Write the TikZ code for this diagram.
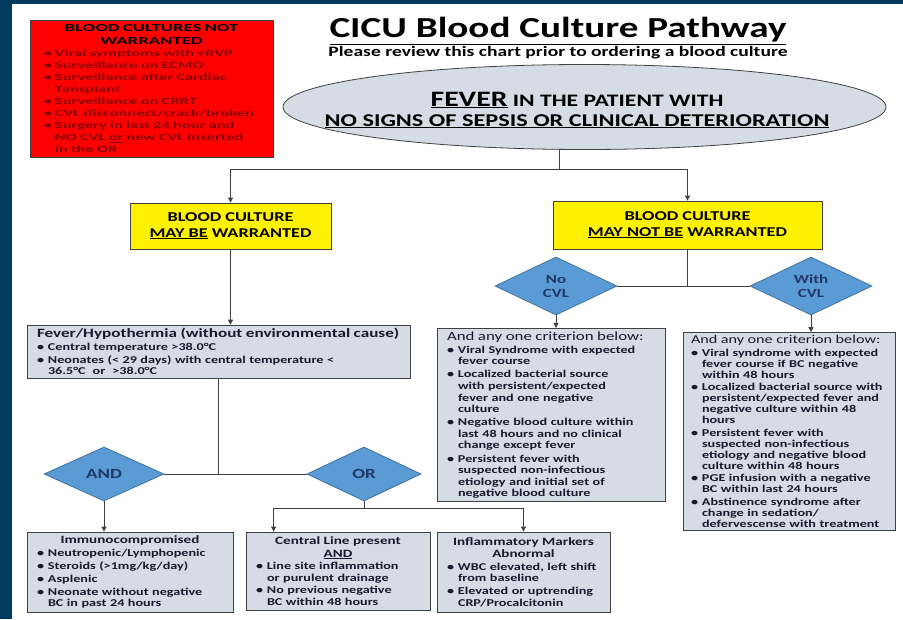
\documentclass[tikz,border=0pt]{standalone}
\usepackage{fontspec}
\setmainfont{Carlito}[FakeStretch=1.35]
\newfontfamily\widefont{Carlito}[FakeStretch=1.75]
\usetikzlibrary{shapes.geometric,arrows.meta,calc}
\definecolor{navy}{RGB}{0,58,94}
\definecolor{warnred}{RGB}{255,0,0}
\definecolor{warntext}{RGB}{135,0,0}
\definecolor{boxfill}{RGB}{214,220,229}
\definecolor{boxline}{RGB}{64,64,64}
\definecolor{decfill}{RGB}{91,155,213}
\definecolor{decline}{RGB}{65,113,156}
\definecolor{dectext}{RGB}{31,56,100}
\definecolor{textdark}{RGB}{25,25,45}
\hyphenpenalty=10000
\exhyphenpenalty=10000
% bullet line with hanging indent
\newlength{\itemgap}
\setlength{\itemgap}{1.5pt}
\newcommand{\bitem}[1]{\par\addvspace{\itemgap}\hangindent=11pt\hangafter=1\noindent\hbox to 11pt{\textbullet\hfil}{\let\\\newline#1}\par}

\begin{document}
\begin{tikzpicture}[x=1pt,y=-1pt,
    greybox/.style={draw=boxline,fill=boxfill,text=textdark,line width=0.8pt,inner xsep=10pt,inner ysep=3pt,align=left,font=\bfseries\fontsize{10.5}{11.3}\selectfont},
    yellowbox/.style={draw=boxline,fill=yellow,line width=0.8pt,align=center,font=\bfseries\fontsize{13.5}{15.5}\selectfont},
    decision/.style={diamond,draw=decline,fill=decfill,text=dectext,line width=0.8pt,inner sep=0pt,align=center,font=\bfseries\fontsize{12.5}{14}\selectfont},
    link/.style={draw=boxline,line width=0.8pt},
    linkarrow/.style={link,-{Triangle[length=5pt,width=5pt]}}]

    % frame
    \fill[navy] (0,0) rectangle (12,619);
    \fill[navy] (0,0) rectangle (903,4);
    \useasboundingbox (0,0) rectangle (903,619);

    % title
    \node[font=\bfseries\fontsize{29}{30}\selectfont] (title) at (558,31) {\underline{CICU Blood Culture Pathway}};
    \node[font=\bfseries\fontsize{14.5}{16}\selectfont] (subtitle) at (558,53) {Please review this chart prior to ordering a blood culture};

    % not warranted list
    \node[draw=boxline,fill=warnred,text=warntext,line width=0.8pt,minimum width=243pt,minimum height=137pt,text width=215pt,inner xsep=14pt,inner ysep=3pt,align=left,
        font=\widefont\bfseries\fontsize{9.4}{12}\selectfont] (notwarranted) at (151.5,88.5)
        {\setlength{\itemgap}{0pt}{\centering\color{black}\fontsize{10.7}{12.6}\selectfont BLOOD CULTURES NOT\\WARRANTED\par}
        \bitem{Viral symptoms with +RVP}
        \bitem{Surveillance on ECMO}
        \bitem{Surveillance after Cardiac\\Tansplant}
        \bitem{Surveillance on CRRT}
        \bitem{CVL disconnect/crack/broken}
        \bitem{Surgery in last 24 hour and\\NO CVL \underline{or} new CVL inserted\\in the OR}};

    % start
    \node[ellipse,draw=boxline,fill=boxfill,line width=0.8pt,minimum width=603pt,minimum height=85pt,inner sep=0pt] (fever) at (584.5,107) {};
    \node[align=center,font=\bfseries\fontsize{18}{20}\selectfont] (fevertext) at (577,110)
        {\underline{\fontsize{22}{20}\selectfont FEVER}\fontsize{17.5}{20}\selectfont{} IN THE PATIENT WITH\\\underline{NO SIGNS OF SEPSIS OR CLINICAL DETERIORATION}};

    % second level
    \node[yellowbox,minimum width=201pt,minimum height=46pt] (maybe) at (230.5,226) {BLOOD CULTURE\\\underline{MAY BE} WARRANTED};
    \node[yellowbox,minimum width=269pt,minimum height=48pt] (maynot) at (687.5,225) {BLOOD CULTURE\\\underline{MAY NOT BE} WARRANTED};

    % may be branch
    \node[greybox,minimum width=383pt,minimum height=53pt,text width=363pt] (febrile) at (218.5,351.5)
        {{\fontsize{12.7}{13.5}\selectfont Fever/Hypothermia (without environmental cause)\par}
        \bitem{Central temperature >38.0°C}
        \bitem{Neonates (< 29 days) with central temperature <\\36.5°C\ \ or\ \ >38.0°C}};
    \node[decision,minimum width=120pt,minimum height=54pt,font=\bfseries\fontsize{14}{15}\selectfont] (andd) at (104,474) {AND};
    \node[decision,minimum width=114pt,minimum height=54pt,font=\bfseries\fontsize{14}{15}\selectfont] (ord) at (364,474) {OR};

    \node[greybox,minimum width=206pt,minimum height=80pt,text width=186pt] (immuno) at (130,572)
        {{\centering\fontsize{11.2}{12.5}\selectfont Immunocompromised\par}
        \bitem{Neutropenic/Lymphopenic}
        \bitem{Steroids (>1mg/kg/day)}
        \bitem{Asplenic}
        \bitem{Neonate without negative\\BC in past 24 hours}};
    \node[greybox,minimum width=184pt,minimum height=78pt,text width=164pt] (cline) at (338,571)
        {{\centering\fontsize{11.2}{12.5}\selectfont Central Line present\\\underline{AND}\par}
        \bitem{Line site inflammation\\or purulent drainage}
        \bitem{No previous negative\\BC within 48 hours}};
    \node[greybox,minimum width=173pt,minimum height=80pt,text width=153pt] (markers) at (523.5,572)
        {{\centering\fontsize{11.2}{12.5}\selectfont Inflammatory Markers\\Abnormal\par}
        \bitem{WBC elevated, left shift\\from baseline}
        \bitem{Elevated or uptrending\\CRP/Procalcitonin}};

    % may not be branch
    \node[decision,minimum width=122pt,minimum height=58pt] (nocvl) at (556,286) {No\\CVL};
    \node[decision,minimum width=122pt,minimum height=58pt] (withcvl) at (811,286) {With\\CVL};

    \node[greybox,minimum width=228pt,minimum height=166pt,text width=208pt,font=\bfseries\fontsize{10.5}{11.6}\selectfont] (nocrit) at (551,415)
        {{\mdseries\fontsize{12.5}{13.5}\selectfont And any one criterion below:\par}
        \bitem{Viral Syndrome with expected\\fever course}
        \bitem{Localized bacterial source\\with persistent/expected\\fever and one negative\\culture}
        \bitem{Negative blood culture within\\last 48 hours and no clinical\\change except fever}
        \bitem{Persistent fever with\\suspected non-infectious\\etiology and initial set of\\negative blood culture}};
    \node[greybox,minimum width=212pt,minimum height=197pt,text width=196pt,inner xsep=8pt,font=\bfseries\fontsize{10.5}{11}\selectfont] (withcrit) at (789,431.5)
        {{\mdseries\fontsize{12}{13.5}\selectfont And any one criterion below:\par}
        \bitem{Viral syndrome with expected\\fever course if BC negative\\within 48 hours}
        \bitem{Localized bacterial source with\\persistent/expected fever and\\negative culture within 48\\hours}
        \bitem{Persistent fever with\\suspected non-infectious\\etiology and negative blood\\culture within 48 hours}
        \bitem{PGE infusion with a negative\\BC within last 24 hours}
        \bitem{Abstinence syndrome after\\change in sedation/\\defervescense with treatment}};

    % connectors
    \draw[link] (fever.south -| 559,0) -- (559,169) coordinate (split);
    \draw[linkarrow] (split) -| (maybe.north);
    \draw[linkarrow] (split) -| (maynot.north);
    \draw[linkarrow] (maybe.south) -- (maybe.south |- febrile.north);
    \draw[link] (febrile.south) -- (febrile.south |- andd.east);
    \draw[link] (andd.east) -- (ord.west);
    \draw[linkarrow] (andd.south) -- (andd.south |- immuno.north);
    \draw[link] (ord.south) -- ++(0,7) coordinate (orsplit);
    \draw[linkarrow] (orsplit) -| ($(cline.north west)+(28,0)$);
    \draw[linkarrow] (orsplit) -| (markers.north);
    \draw[link] (maynot.south) -- (maynot.south |- nocvl.east);
    \draw[link] (nocvl.east) -- (withcvl.west);
    \draw[linkarrow] (nocvl.south) -- (nocvl.south |- nocrit.north);
    \draw[linkarrow] (withcvl.south) -- (withcvl.south |- withcrit.north);
\end{tikzpicture}
\end{document}
